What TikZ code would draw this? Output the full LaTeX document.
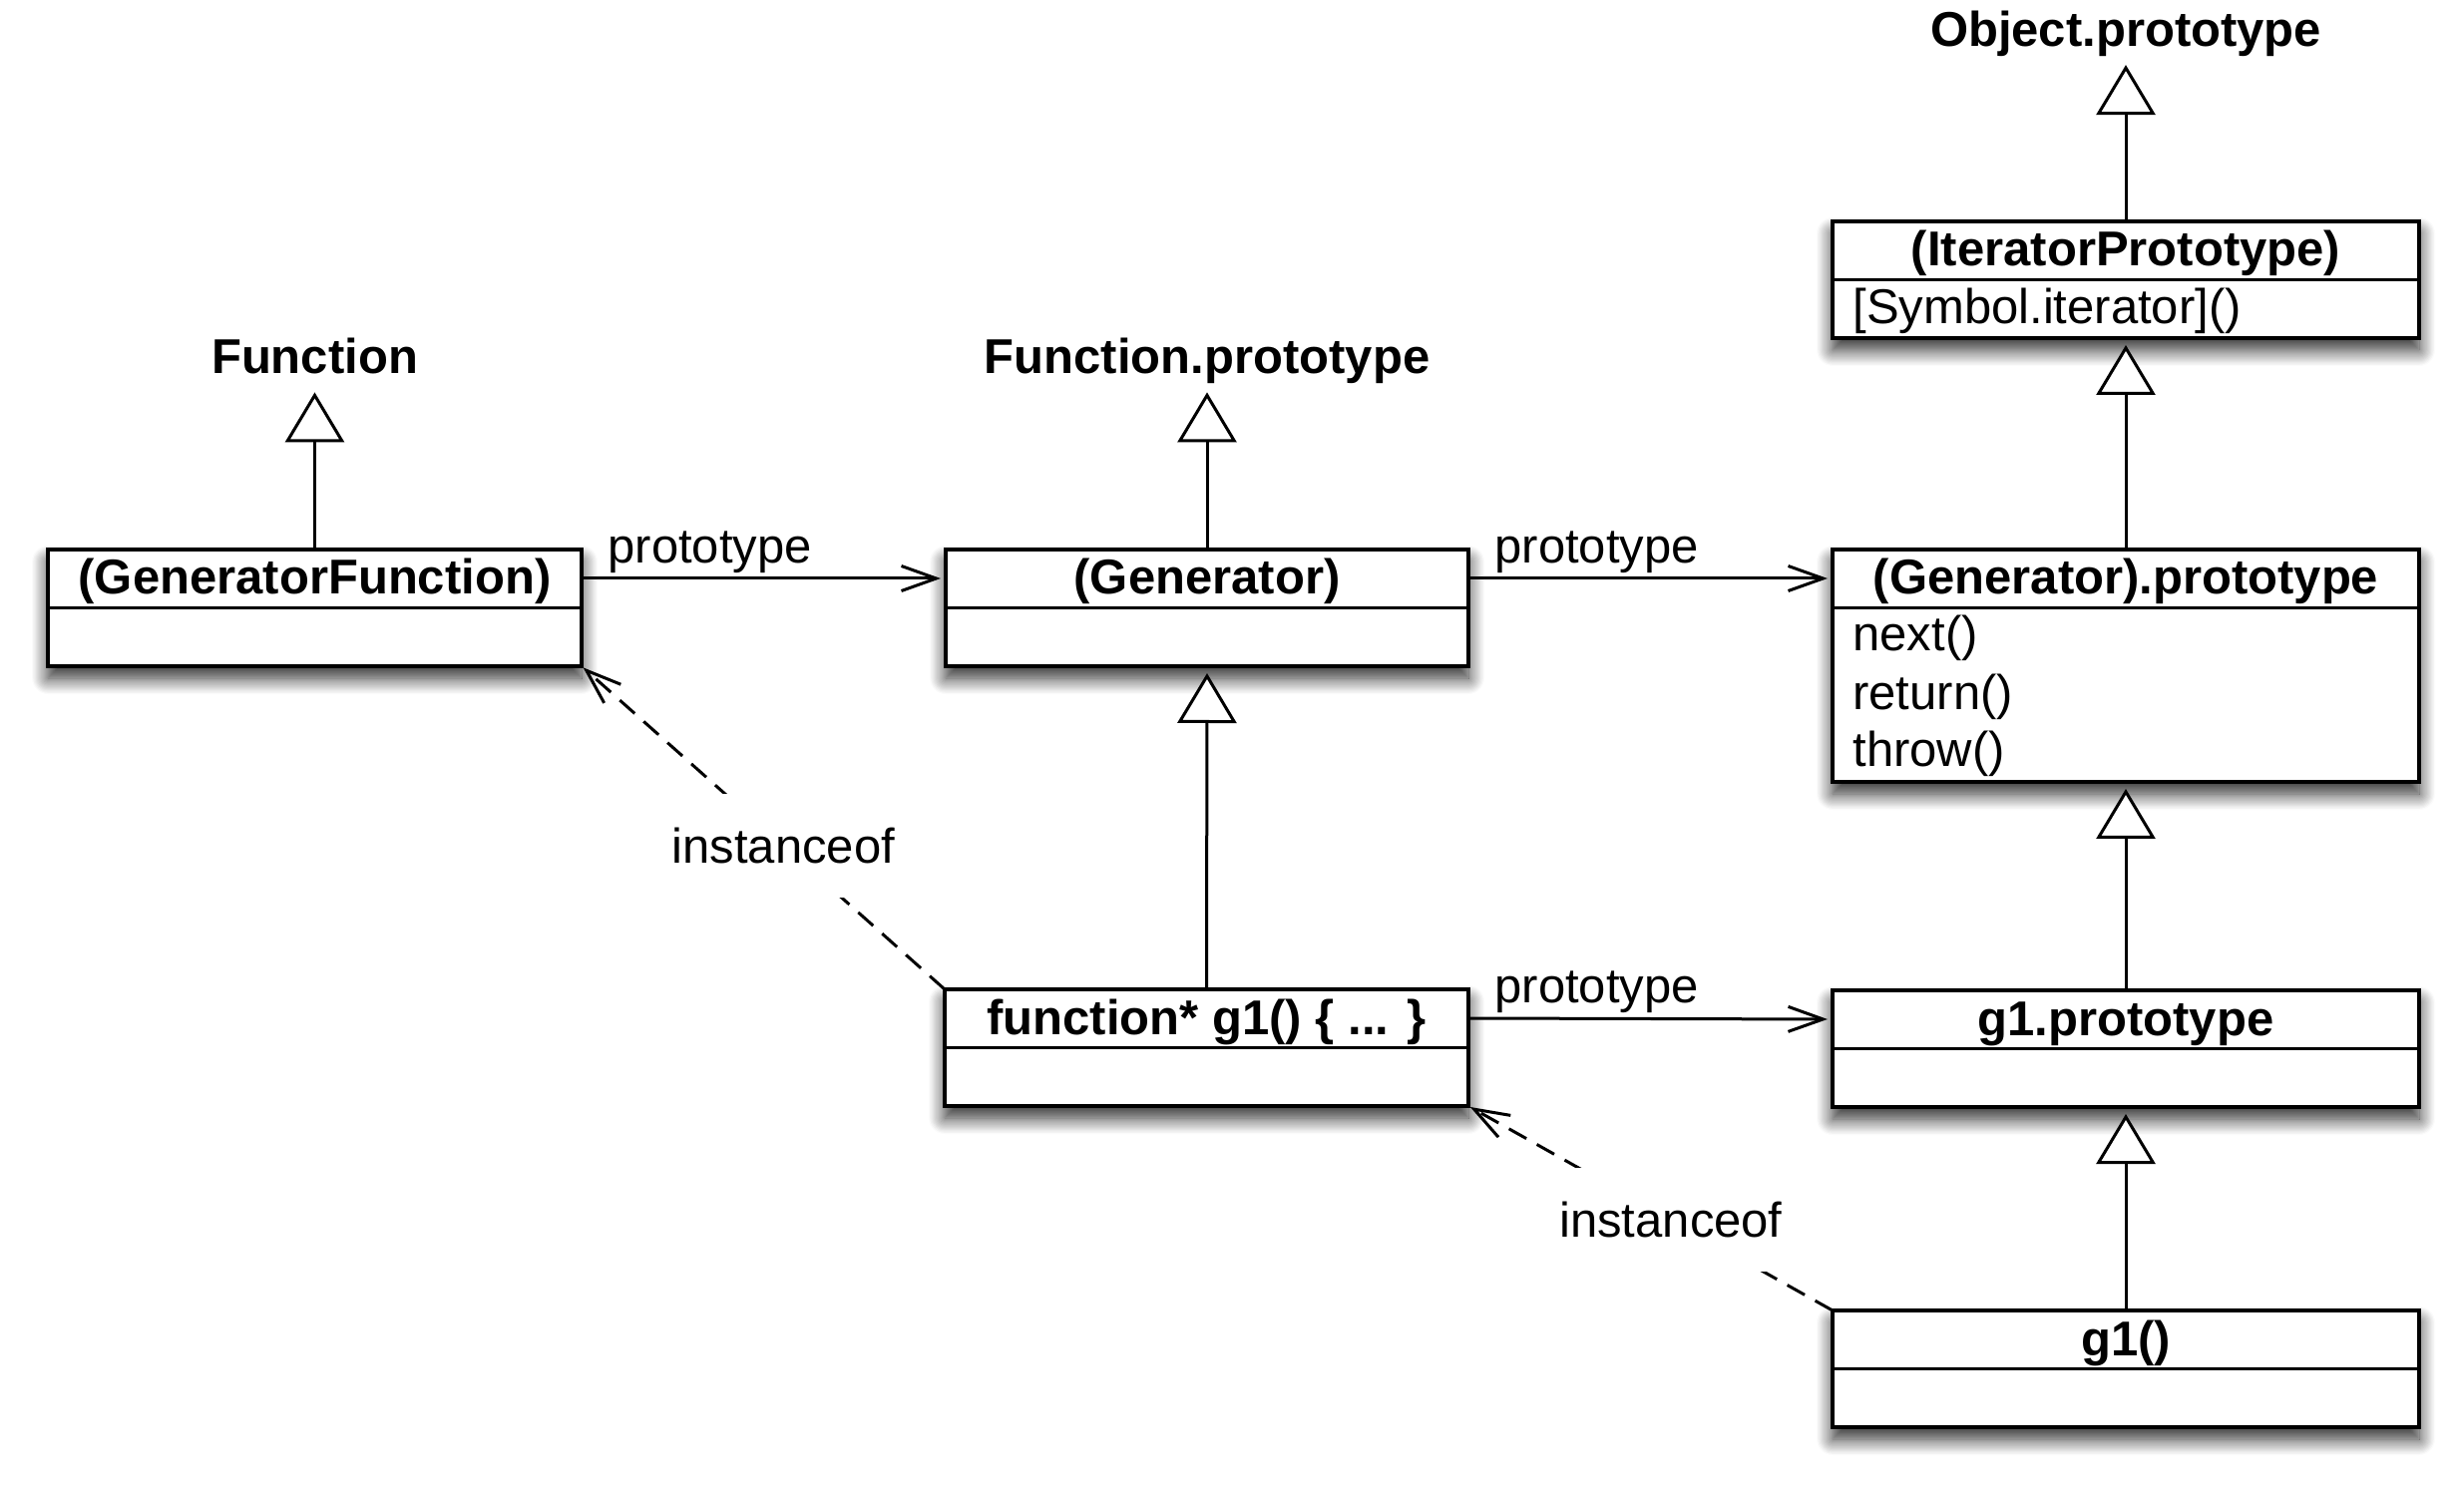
\documentclass[tikz,border=0pt]{standalone}
\usepackage{fontspec}
\setmainfont{Liberation Sans}
\usetikzlibrary{arrows.meta,shadows.blur,calc}
\begin{document}
\begin{tikzpicture}[x=0.5pt,y=-0.5pt,
  font=\fontsize{24.5pt}{29pt}\selectfont,
  umlbox/.style={draw, line width=1.75pt, fill=white, inner sep=0pt, outer sep=0pt,
    anchor=north west, minimum height=58.5pt,
    blur shadow={shadow xshift=0pt, shadow yshift=-6pt, shadow blur radius=8pt,
      shadow opacity=85, shadow blur steps=14}},
  divider/.style={line width=1.75pt},
  titletext/.style={font=\fontsize{24.5pt}{29pt}\selectfont\bfseries, anchor=base, inner sep=0pt},
  attrtext/.style={anchor=base west, inner sep=0pt},
  freetext/.style={font=\fontsize{24.5pt}{29pt}\selectfont\bfseries, anchor=base, inner sep=0pt, text depth=0pt},
  inherit/.style={line width=1.5pt, -{Triangle[open, length=25pt, width=29.5pt, fill=white]}},
  assoc/.style={line width=1.5pt, -{Straight Barb[length=17.5pt, width=12.5pt]}, shorten >=2.5pt},
  plabel/.style={anchor=base west, inner sep=0pt, xshift=12.5pt, yshift=7.5pt},
  inst/.style={line width=1.5pt, dash pattern=on 10pt off 6pt, -{Straight Barb[length=17.5pt, width=12.5pt]}, shorten >=1pt},
  ilabel/.style={fill=white, inner xsep=4pt, inner ysep=17pt}
]
\useasboundingbox (0,0) rectangle (2470,1491);

% boxes
\node[umlbox, minimum width=267.5pt] (gf) at (48,551) {};
\node[umlbox, minimum width=262pt] (gen) at (948,551) {};
\node[umlbox, minimum width=294pt, minimum height=116.5pt] (gp) at (1837,551) {};
\node[umlbox, minimum width=294pt] (ip) at (1837,222) {};
\node[umlbox, minimum width=262.5pt] (fs) at (947,992) {};
\node[umlbox, minimum width=294pt] (g1p) at (1837,993) {};
\node[umlbox, minimum width=294pt] (g1) at (1837,1314) {};

% dividers
\foreach \b in {gf,gen,gp,ip,fs,g1p,g1}{
  \draw[divider] ($(\b.north west)+(0,58.5)$) -- ($(\b.north east)+(0,58.5)$);
}

% titles
\node[titletext] (gfT) at ($(gf.north)+(0,45)$) {(GeneratorFunction)};
\node[titletext] (genT) at ($(gen.north)+(0,45)$) {(Generator)};
\node[titletext] (gpT) at ($(gp.north)+(0,45)$) {(Generator).prototype};
\node[titletext] (ipT) at ($(ip.north)+(0,45)$) {(IteratorPrototype)};
\node[titletext] (fsT) at ($(fs.north)+(0,45)$) {function* g1() \{ ... \}};
\node[titletext] (g1pT) at ($(g1p.north)+(0,45)$) {g1.prototype};
\node[titletext] (g1T) at ($(g1.north)+(0,45)$) {g1()};

% attributes
\node[attrtext] (ipA) at ($(ip.north west)+(20,103)$) {[Symbol.iterator]()};
\node[attrtext] (gpA1) at ($(gp.north west)+(20,102)$) {next()};
\node[attrtext] (gpA2) at ($(gp.north west)+(20,160.5)$) {return()};
\node[attrtext] (gpA3) at ($(gp.north west)+(20,218)$) {throw()};

% free names
\node[freetext] (fn) at (315.5,375) {Function};
\node[freetext] (fnp) at (1210,375) {Function.prototype};
\node[freetext] (obj) at (2131,46.7) {Object.prototype};

% inheritance
\draw[inherit, shorten >=9pt] (gf.north) -- (fn.south);
\draw[inherit, shorten >=9pt] (gen.north) -- (fnp.south);
\draw[inherit, shorten >=9pt] (ip.north) -- (obj.south);
\draw[inherit, shorten >=3.5pt] (gp.north) -- (ip.south);
\draw[inherit, shorten >=3.5pt] (g1p.north) -- (gp.south);
\draw[inherit, shorten >=3.5pt] (g1.north) -- (g1p.south);
\draw[inherit, shorten >=3.5pt] (fs.north) -- (gen.south);

% prototype associations
\draw[assoc] ($(gf.north east)+(0,29)$) -- node[plabel, pos=0] (p1) {prototype} ($(gen.north west)+(0,29)$);
\draw[assoc] ($(gen.north east)+(0,29)$) -- node[plabel, pos=0] (p2) {prototype} ($(gp.north west)+(0,29)$);
\draw[assoc] ($(fs.north east)+(0,29)$) -- node[plabel, pos=0] (p3) {prototype} ($(g1p.north west)+(0,29)$);

% instanceof
\draw[inst] (fs.north west) -- node[ilabel, pos=0.444] (i1) {instanceof} (gf.south east);
\draw[inst] (g1.north west) -- node[ilabel, pos=0.444] (i2) {instanceof} (fs.south east);
\end{tikzpicture}
\end{document}
